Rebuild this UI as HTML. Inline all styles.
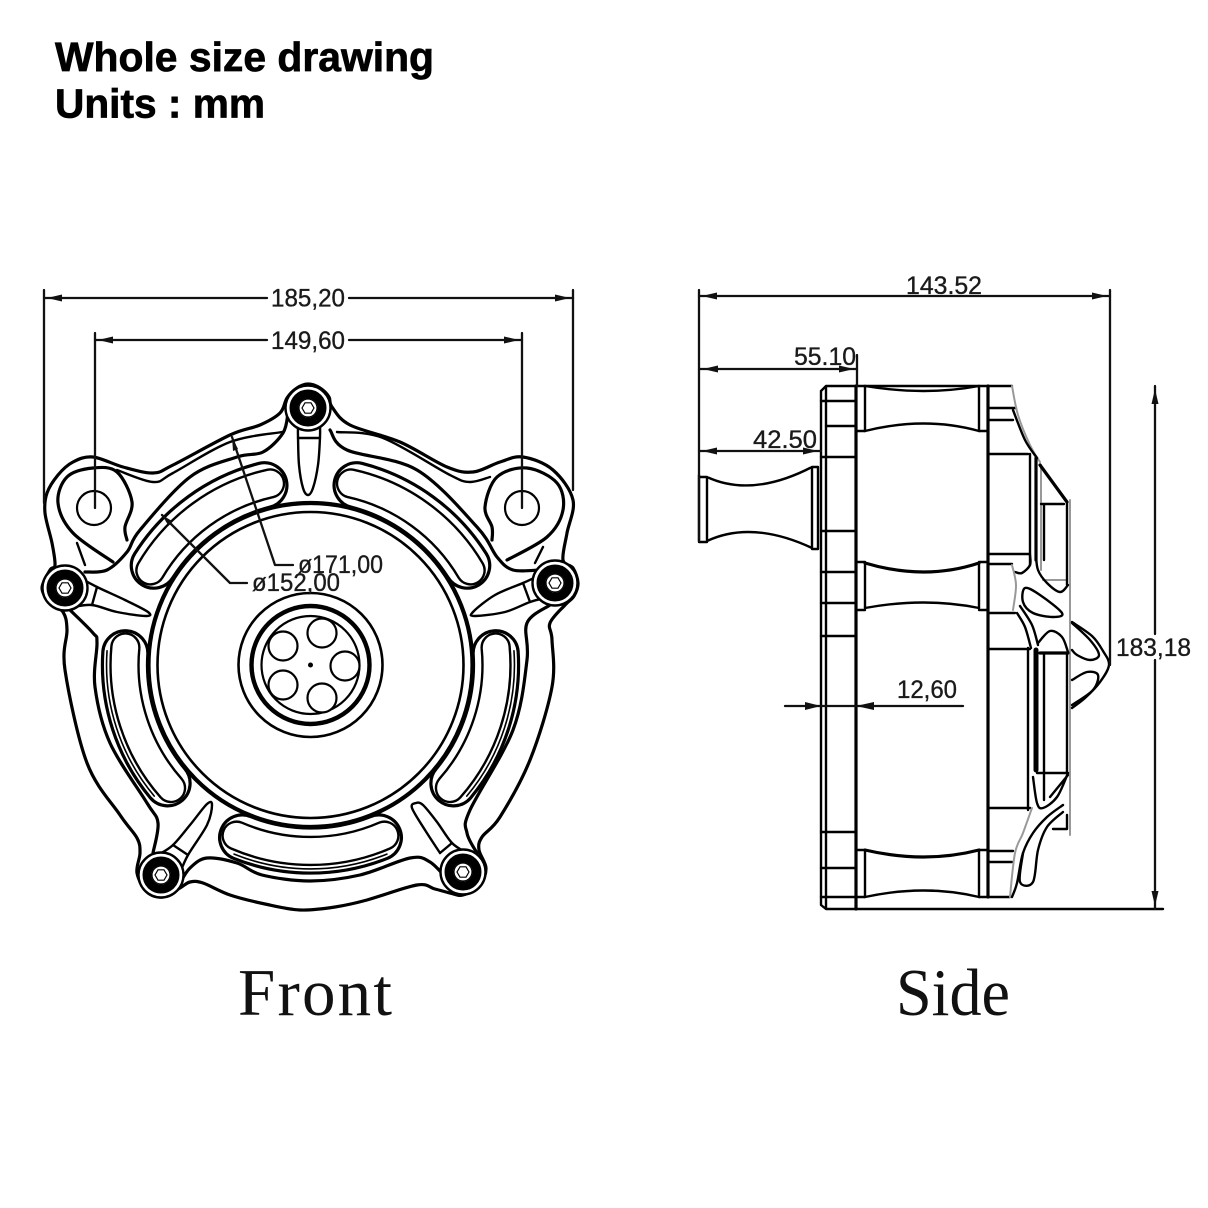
<!DOCTYPE html>
<html><head><meta charset="utf-8"><title>Whole size drawing</title>
<style>
html,body{margin:0;padding:0;background:#fff}
svg{display:block}
.l,polyline,path{fill:none;stroke:#000;stroke-width:2.4;stroke-linecap:round;stroke-linejoin:round}
.d{stroke:#111;stroke-width:2.3;fill:none}
.t{stroke-width:3.2}
.g{stroke:#999;stroke-width:2}
.a{fill:#111;stroke:none}
text{font-family:"Liberation Sans",sans-serif;fill:#1a1a1a;stroke:none}
.h{font-weight:bold;fill:#000;font-size:41px;stroke:#000;stroke-width:.7}
.n{font-size:25px;stroke:#1a1a1a;stroke-width:.35}
.s{font-family:"Liberation Serif",serif;font-size:67px;fill:#111}
</style></head><body>
<svg xmlns="http://www.w3.org/2000/svg" width="1208" height="1208" viewBox="0 0 1208 1208">
<rect width="1208" height="1208" fill="#fff"/>
<defs>
<g id="bolt">
<circle r="22.5" fill="#fff" stroke="#000" stroke-width="2.4"/>
<circle r="14" fill="#fff" stroke="#000" stroke-width="9"/>
<circle r="9" fill="#fff" stroke="#000" stroke-width="1.2"/>
<polygon points="6,0 3,5.2 -3,5.2 -6,0 -3,-5.2 3,-5.2" fill="#fff" stroke="#000" stroke-width="1.2"/>
</g>
<g id="slot">
<path class="t" d="M-77-193.3A208 208 0 0 1 77-193.3A22.5 22.5 0 0 1 59.7-151.7A163 163 0 0 0-59.7-151.7A22.5 22.5 0 0 1-77-193.3Z"/>
<path d="M-79.7-183.4A200 200 0 0 1 79.7-183.4A14 14 0 0 1 68.6-157.7A172 172 0 0 0-68.6-157.7A14 14 0 0 1-79.7-183.4Z"/>
</g>
</defs>

<!-- titles -->
<text class="h" x="55" y="71" textLength="379" lengthAdjust="spacingAndGlyphs">Whole size drawing</text>
<text class="h" x="55" y="117.5" textLength="210" lengthAdjust="spacingAndGlyphs">Units : mm</text>
<text class="s" x="238" y="1015" textLength="154">Front</text>
<text class="s" x="896" y="1015" textLength="114" lengthAdjust="spacingAndGlyphs">Side</text>

<!-- FRONT VIEW -->
<polyline class="c z t" points="332,407 350,425 400,442 447,467 473,472 500,462 523,457 553,470 573,500 567,533 563,560 573,568 578,583 574,596 565,605 550,623 552,640 552,687 530,760 500,817 482,837 479,850 486,868 480,885 463,895 450,893 435,889 417,885 367,900 335,907 300,910 265,904 230,895 203,883 190,882 180,888 163,897 147,892 137,873 140,853 137,838 120,815 87,763 65,670 67,630 63,612 50,603 42,588 50,570 55,565 52,543 45,513 47,493 58,475 73,462 93,457 123,467 153,473 173,465 230,435 260,425 280,413 287,398 297,388 308,384 320,388 329,397"/>

<circle cx="310.5" cy="665" r="153" stroke="#000" stroke-width="2.6" fill="none"/>
<circle cx="310.5" cy="665" r="162" stroke="#000" stroke-width="4.2" fill="none"/>

<g transform="translate(310.5 665)">
<use href="#slot" transform="rotate(-36)"/>
<use href="#slot" transform="rotate(36)"/>
<use href="#slot" transform="rotate(108)"/>
<use href="#slot" transform="rotate(180)"/>
<use href="#slot" transform="rotate(252)"/>
<path class="l" style="stroke-width:1.6" d="M-76.4-189.1A204 204 0 0 1 76.4-189.1" transform="rotate(108)"/>
<path class="l" style="stroke-width:1.6" d="M-76.4-189.1A204 204 0 0 1 76.4-189.1" transform="rotate(180)"/>
<path class="l" style="stroke-width:1.6" d="M-76.4-189.1A204 204 0 0 1 76.4-189.1" transform="rotate(252)"/>
</g>

<!-- upper ring between bolts -->
<polyline class="c t" points="85,572 107,570 127,552 140,530 190,477 237,457 263,452 283,433 288,413"/>
<polyline class="c t" points="330,430 347,450 417,470 477,527 497,557 513,570 540,570"/>
<!-- ears -->
<polyline class="c t" points="113,562 73,533 58,503 67,477 93,468 117,472 132,502 125,527 127,540"/>
<polyline class="c" points="117,470 153,482 173,473 230,442 282,432"/>
<polyline class="c" points="77,543 85,565"/>
<polyline class="c t" points="507,560 547,537 563,510 557,483 527,468 497,477 485,507 492,527 492,540"/>
<polyline class="c" points="337,432 383,438 450,475 470,482 490,477"/>
<polyline class="c" points="543,547 535,563"/>
<circle cx="94" cy="508" r="17" fill="none" stroke="#000" stroke-width="2.2"/>
<circle cx="522" cy="508" r="17" fill="none" stroke="#000" stroke-width="2.2"/>
<!-- lower ring arcs -->
<polyline class="c t" points="70,610 93,633 97,643 95,687 110,743 147,803 158,823 153,853"/>
<polyline class="c t" points="550,605 527,623 527,660 513,730 470,810 467,833 477,853"/>
<polyline class="c t" points="448,880 430,862 410,858 360,875 310,881 262,875 237,863 207,858 190,868 180,883"/>

<!-- petals -->
<polyline class="c" points="298,425 298,437 299,465 303,488 308,495 313,488 318,465 320,437 320,425"/><path d="M298 438H320"/>
<polyline class="c" points="80,578 97,587 125,600 148,612 146,616 117,612 92,605 73,607"/><path d="M97 587L92 605"/>
<polyline class="c" points="540,575 523,583 495,595 473,612 475,616 505,612 530,602 545,598"/><path d="M523 583L530 602"/>
<polyline class="c" points="158,855 173,845 190,825 207,804 212,805 207,825 188,855 180,873"/><path d="M173 845L188 855"/>
<polyline class="c" points="440,853 425,830 412,808 416,803 423,805 437,822 452,843 467,853"/><path d="M440 853L452 843"/>

<!-- hub -->
<g fill="none" stroke="#000">
<circle cx="310.5" cy="665" r="72" stroke-width="2.6"/>
<circle cx="310.5" cy="665" r="59" stroke-width="4.4"/>
<circle cx="310.5" cy="665" r="49" stroke-width="2.2"/>
<circle cx="322" cy="633" r="14.5" stroke-width="2.2" fill="#fff"/>
<circle cx="345" cy="666" r="14.5" stroke-width="2.2" fill="#fff"/>
<circle cx="322" cy="698" r="14.5" stroke-width="2.2" fill="#fff"/>
<circle cx="283" cy="646" r="14.5" stroke-width="2.2" fill="#fff"/>
<circle cx="283" cy="685" r="14.5" stroke-width="2.2" fill="#fff"/>
</g>
<circle cx="310.5" cy="665" r="2.5" fill="#000"/>

<!-- bolts -->
<use href="#bolt" x="308" y="408"/>
<use href="#bolt" x="65" y="588"/>
<use href="#bolt" x="555" y="583"/>
<use href="#bolt" x="161" y="875"/>
<use href="#bolt" x="463" y="872"/>

<!-- front dimensions -->
<path class="d" d="M44 290V503M573 290V490M95 333V508M522 333V508"/>
<path class="d" d="M44 298H267M349 298H573M95 340H267M349 340H522"/>
<path class="d" d="M232 437L275 565H293M162 515L230 583H247"/>
<polygon class="a" points="47,298 62,294.5 62,301.5"/><polygon class="a" points="570,298 555,294.5 555,301.5"/>
<polygon class="a" points="98,340 113,336.5 113,343.5"/><polygon class="a" points="519,340 504,336.5 504,343.5"/>
<polygon class="a" points="232,437 233,451 238,449"/><polygon class="a" points="162,515 172,521 168,525"/>
<text class="n" x="271" y="306.5" textLength="74" lengthAdjust="spacingAndGlyphs">185,20</text>
<text class="n" x="271" y="349" textLength="74" lengthAdjust="spacingAndGlyphs">149,60</text>
<text class="n" x="298" y="573" textLength="85" lengthAdjust="spacingAndGlyphs">ø171,00</text>
<text class="n" x="252" y="591" textLength="88" lengthAdjust="spacingAndGlyphs">ø152,00</text>

<!-- SIDE VIEW -->
<!-- flange -->
<path d="M821 391L826 386H1012M821 391V905L826 909H1163M826 386V909"/>
<path class="t" d="M856 386V909M988 386V897"/>
<path d="M821 401H856M826 426H856M821 457H856M821 531H856M821 572H856M821 603H856M821 636H856M821 832H856M821 868H856M821 897H856"/>
<!-- spacer pillars -->
<path d="M865 386V431M979 386V431M865 563V608M979 563V608M865 850V897M979 850V897"/>
<path d="M856 431H865M979 431H988M856 562H865M979 562H988M856 610H865M979 610H988M856 850H865M979 850H988M856 897H865M979 897H1010"/>
<path d="M865 386Q925 396 979 386M865 431Q925 416 979 431"/>
<path class="t" d="M865 563Q925 581 979 563"/>
<path d="M865 608Q925 597 979 608"/>
<path class="t" d="M865 850Q925 864 979 850"/>
<path d="M865 897Q925 884 979 897"/>
<!-- small left pillar -->
<path d="M699 475V542H707V477H699M812 467H818V549H812ZM707 477Q752 498 812 467M707 541Q752 520 812 548"/>
<!-- head section -->
<path d="M988 408H1016M988 420H1013M988 454H1028M988 554H1030M988 564H1012M988 613H1015M988 649H1030M988 808H1030M988 851H1013M988 862H1012"/>
<polyline class="c g" points="1012,386 1018,415 1030,445 1040,462"/>
<polyline class="c" points="1013,410 1025,440 1037,458"/>
<path d="M1030 454V565"/>
<path class="t" d="M1036 458V560"/>
<path class="g" d="M1041 465V570M1070 500V835M1043 580H1067"/>
<path class="t" d="M1040 465L1067 502"/>
<path d="M1041 504H1064M1044 504V560M1067 502V585"/>
<polyline class="c" points="1036,555 1038,570 1047,583 1060,592 1068,585"/>
<polyline class="c" points="1030,555 1030,565 1022,573 1015,572"/>
<polyline class="c g" points="1012,565 1016,585 1013,610"/>
<polyline class="c z" points="1025,588 1040,595 1062,613 1053,617 1033,613 1023,602"/>
<polyline class="c" points="1017,613 1025,627 1031,648"/>
<polyline class="c" points="1020,606 1032,625 1038,645"/>
<polyline class="c" points="1038,643 1050,631 1062,637 1068,652"/>
<path class="t" d="M1040 653H1068"/>
<path d="M1028 648V810M1044 653V800M1067 653V773M1037 773H1068"/>
<path d="M1036 650V770" style="stroke-width:5"/>
<polyline class="c" points="1072,622 1092,636 1103,651 1109,665 1100,682 1085,698 1072,708"/>
<polyline class="c" points="1072,623 1090,640 1099,655 1090,660 1077,655 1072,650"/>
<polyline class="c" points="1072,680 1087,672 1098,675 1093,690 1072,705"/>
<polyline class="c" points="1033,777 1037,803 1043,808 1057,797 1068,773"/>
<polyline class="c" points="1050,797 1068,775"/>
<polyline class="c g" points="1032,808 1023,833 1015,853 1010,897"/>
<polyline class="c" points="1063,805 1047,817 1033,833 1023,853 1017,883 1012,897"/>
<polyline class="c" points="1063,812 1047,827 1038,850 1033,882 1020,882 1023,853"/>
<path d="M1053 829H1067V815"/>

<!-- side dimensions -->
<path class="d" d="M699 290V541M1110 290V665M857 355V386"/>
<path class="d" d="M699 296H1110M700 369H857M699 451H821"/>
<path class="d" d="M785 706H963"/>
<path class="d" d="M1155 386V634M1155 660V909"/>
<polygon class="a" points="702,296 717,292.5 717,299.5"/><polygon class="a" points="1107,296 1092,292.5 1092,299.5"/>
<polygon class="a" points="703,369 718,365.5 718,372.5"/><polygon class="a" points="854,369 839,365.5 839,372.5"/>
<polygon class="a" points="702,451 717,447.5 717,454.5"/><polygon class="a" points="818,451 803,447.5 803,454.5"/>
<polygon class="a" points="821,706 805,702 805,710"/><polygon class="a" points="856,706 874,702 874,710"/>
<polygon class="a" points="1155,389 1151.5,404 1158.5,404"/><polygon class="a" points="1155,906 1151.5,891 1158.5,891"/>
<text class="n" x="906" y="294" textLength="76" lengthAdjust="spacingAndGlyphs">143.52</text>
<text class="n" x="794" y="365" textLength="62" lengthAdjust="spacingAndGlyphs">55.10</text>
<text class="n" x="753" y="448" textLength="64" lengthAdjust="spacingAndGlyphs">42.50</text>
<text class="n" x="897" y="698" textLength="60" lengthAdjust="spacingAndGlyphs">12,60</text>
<text class="n" x="1116" y="656" textLength="75" lengthAdjust="spacingAndGlyphs">183,18</text>
</svg>
<script>
document.querySelectorAll('polyline.c').forEach(function(e){
var n=e.getAttribute('points').trim().split(/\s+/).map(function(s){return s.split(',').map(Number)});
var z=e.classList.contains('z'),L=n.length,d='M'+n[0].join(' ');
function g(i){return z?n[(i+L)%L]:n[Math.max(0,Math.min(L-1,i))]}
for(var i=0;i<(z?L:L-1);i++){var a=g(i-1),b=g(i),c=g(i+1),f=g(i+2);
d+='C'+(b[0]+(c[0]-a[0])/6).toFixed(1)+' '+(b[1]+(c[1]-a[1])/6).toFixed(1)+' '+(c[0]-(f[0]-b[0])/6).toFixed(1)+' '+(c[1]-(f[1]-b[1])/6).toFixed(1)+' '+c[0]+' '+c[1];}
if(z)d+='Z';
var p=document.createElementNS('http://www.w3.org/2000/svg','path');
p.setAttribute('d',d);p.setAttribute('class',e.getAttribute('class'));
e.parentNode.replaceChild(p,e);});
</script>
</body></html>
